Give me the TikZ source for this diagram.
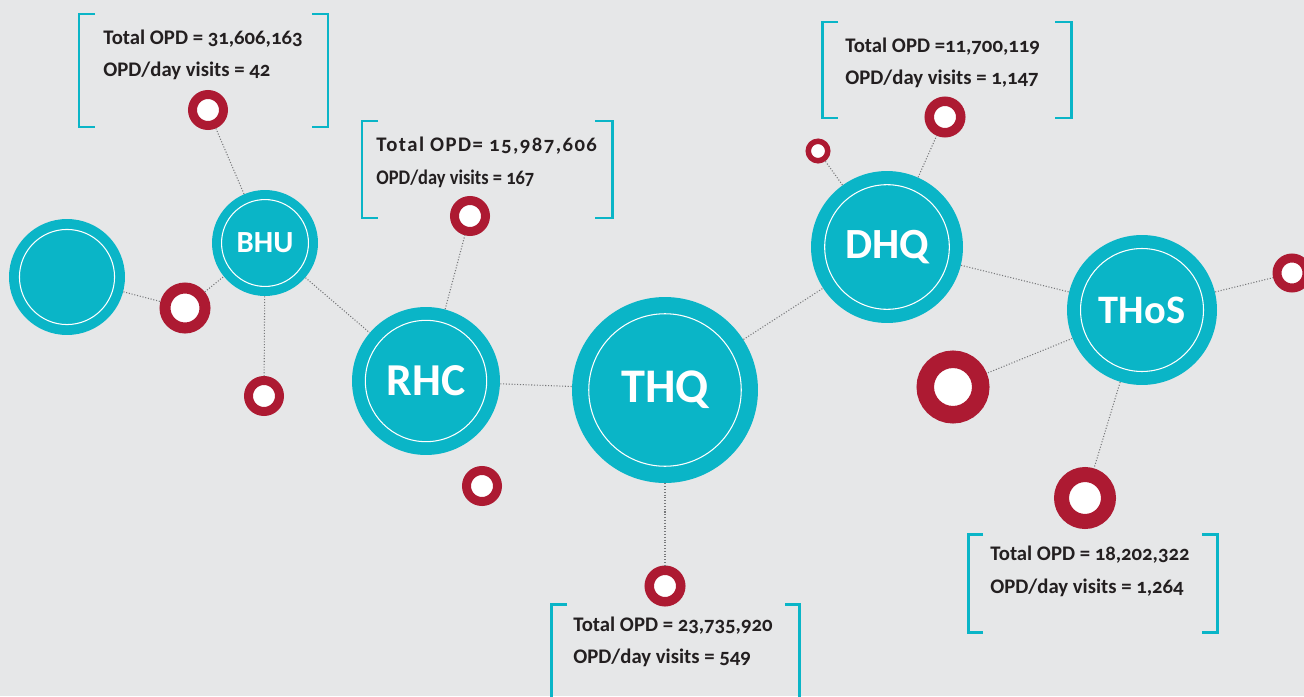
\documentclass[tikz,border=0pt]{standalone}
\usepackage{fontspec}
\setmainfont{Carlito}[Numbers=OldStyle]
\usepackage{tikz}
\usetikzlibrary{positioning}
\definecolor{hubteal}{HTML}{0AB5C7}
\definecolor{ringred}{HTML}{AD1A32}
\definecolor{paper}{HTML}{E6E7E8}
\definecolor{linkgrey}{HTML}{77787A}
\definecolor{ink}{HTML}{231F20}
\tikzset{
  hub/.style={circle, fill=hubteal, text=white, inner sep=0pt, minimum size=#1,
    path picture={\draw[white, line width=0.6pt] (path picture bounding box.center) circle[radius=0.41*#1];}},
  ring/.style 2 args={circle, draw=ringred, fill=white, inner sep=0pt, minimum size=#1, line width=#2},
  link/.style={draw=linkgrey, densely dotted, line width=0.6pt},
  bracket/.style={draw=hubteal, line width=1.7pt},
  opd/.style={text=ink, font=\bfseries\fontsize{11.8}{14}\selectfont, anchor=base west, inner sep=0pt},
}

\begin{document}
\begin{tikzpicture}[x=0.02cm, y=-0.02cm]
	\fill[paper] (0,0) rectangle (1304,696);
	\useasboundingbox (0,0) rectangle (1304,696);
	% hubs
	\node[hub=2.32cm] (lft) at (67,277) {};
	\node[hub=2.12cm, font=\bfseries\fontsize{17.5}{18}\selectfont] (bhu) at (265,243) {BHU};
	\node[hub=2.96cm, font=\bfseries\fontsize{26}{26}\selectfont] (rhc) at (426,381) {RHC};
	\node[hub=3.72cm, font=\bfseries\fontsize{27.5}{28}\selectfont] (thq) at (665,390) {THQ};
	\node[hub=3.04cm, font=\bfseries\fontsize{24.5}{25}\selectfont] (dhq) at (887,247) {DHQ};
	\node[hub=3.0cm, font=\bfseries\fontsize{23}{23}\selectfont] (thos) at (1142,310) {THoS};
	% red rings
	\node[ring={0.8cm}{0.22cm}] (bhuleft) at (185,308) {};
	\node[ring={0.62cm}{0.18cm}] (bhutop) at (208,110) {};
	\node[ring={0.62cm}{0.18cm}] (bhudown) at (264,396) {};
	\node[ring={0.62cm}{0.18cm}] (rhctop) at (470,216) {};
	\node[ring={0.62cm}{0.18cm}] (rhcdown) at (482,486) {};
	\node[ring={0.63cm}{0.19cm}] (thqdown) at (665,586) {};
	\node[ring={0.39cm}{0.11cm}] (dhqsmall) at (818,151) {};
	\node[ring={0.63cm}{0.19cm}] (dhqtop) at (945,117) {};
	\node[ring={1.11cm}{0.35cm}] (thosleft) at (953,387) {};
	\node[ring={0.94cm}{0.3cm}] (thosdown) at (1085,498) {};
	\node[ring={0.6cm}{0.18cm}] (thosright) at (1292,273) {};
	% links
	\draw[link] (lft) -- (bhuleft);
	\draw[link] (bhuleft) -- (bhu);
	\draw[link] (bhu) -- (bhutop);
	\draw[link] (bhu) -- (bhudown);
	\draw[link] (bhu) -- (rhc);
	\draw[link] (rhc) -- (rhctop);
	\draw[link] (rhc) -- (thq);
	\draw[link] (thq) -- (thqdown);
	\draw[link] (thq) -- (dhq);
	\draw[link] (dhq) -- (dhqsmall);
	\draw[link] (dhq) -- (dhqtop);
	\draw[link] (dhq) -- (thos);
	\draw[link] (thos) -- (thosright);
	\draw[link] (thos) -- (thosleft);
	\draw[link] (thos) -- (thosdown);
	% brackets
	\draw[bracket] (95,14) -- (79,14) -- (79,127) -- (95,127);
	\draw[bracket] (312,14) -- (328,14) -- (328,127) -- (312,127);
	\draw[bracket] (378,121) -- (362,121) -- (362,218) -- (378,218);
	\draw[bracket] (595,121) -- (612,121) -- (612,218) -- (595,218);
	\draw[bracket] (838,22) -- (822,22) -- (822,118) -- (838,118);
	\draw[bracket] (1055,22) -- (1071,22) -- (1071,118) -- (1055,118);
	\draw[bracket] (983,534) -- (968,534) -- (968,632) -- (983,632);
	\draw[bracket] (1202,534) -- (1217,534) -- (1217,632) -- (1202,632);
	\draw[bracket] (567,604) -- (551,604) -- (551,700);
	\draw[bracket] (785,604) -- (799,604) -- (799,700);
	% figures
	\node[opd] (bhuopd) at (103,45) {Total OPD = 31,606,163};
	\node[opd] (bhuvisits) at (103,77) {OPD/day visits = 42};
	\node[opd, font=\bfseries\fontsize{11.8}{14}\selectfont\addfontfeatures{LetterSpace=7}] (rhcopd) at (376,152) {Total OPD= 15,987,606};
	\node[opd, font=\bfseries\fontsize{11.8}{14}\selectfont\addfontfeatures{FakeStretch=0.89}] (rhcvisits) at (376,184) {OPD/day visits = 167};
	\node[opd] (dhqopd) at (845,53) {Total OPD =11,700,119};
	\node[opd] (dhqvisits) at (845,85) {OPD/day visits = 1,147};
	\node[opd] (thosopd) at (990,560) {Total OPD = 18,202,322};
	\node[opd] (thosvisits) at (990,593) {OPD/day visits = 1,264};
	\node[opd] (thqopd) at (573,631) {Total OPD = 23,735,920};
	\node[opd] (thqvisits) at (573,663) {OPD/day visits = 549};
\end{tikzpicture}
\end{document}
